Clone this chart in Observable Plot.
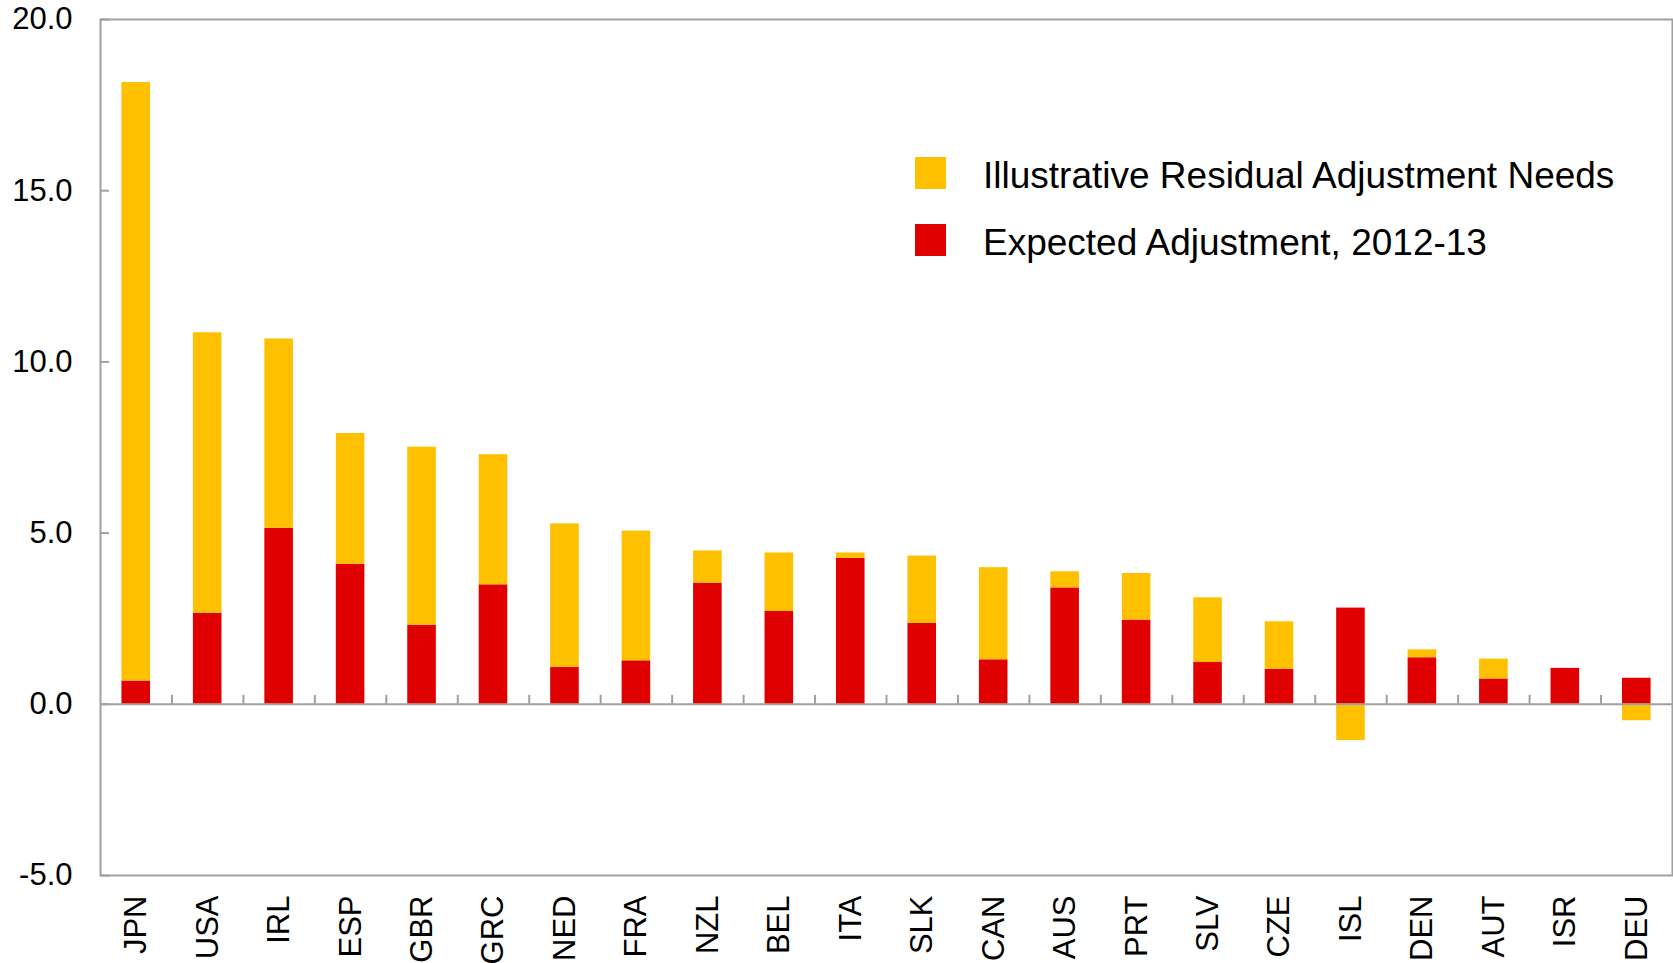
<!DOCTYPE html>
<html>
<head>
<meta charset="utf-8">
<script src="https://cdn.jsdelivr.net/npm/d3@7"></script>
<script src="https://cdn.jsdelivr.net/npm/@observablehq/plot@0.6"></script>
<style>
  html, body { margin: 0; padding: 0; background: #fff; }
  #wrap { position: relative; width: 1673px; height: 963px; font-family: "Liberation Sans", Arial, sans-serif; }
  #legend { position: absolute; left: 915px; top: 157px; font-size: 37px; color: #000; }
  .item { display: flex; align-items: center; height: 32px; margin-bottom: 35px; white-space: nowrap; }
  .sw { width: 31px; height: 32px; margin-right: 37px; }
  .tx { position: relative; top: 3px; }
</style>
</head>
<body>
<div id="wrap"><div id="chart"></div><div id="legend"></div></div>
<script>
const countries = ["JPN","USA","IRL","ESP","GBR","GRC","NED","FRA","NZL","BEL","ITA","SLK","CAN","AUS","PRT","SLV","CZE","ISL","DEN","AUT","ISR","DEU"];
const expectedAdj = [0.68, 2.66, 5.14, 4.09, 2.31, 3.49, 1.08, 1.27, 3.54, 2.71, 4.26, 2.36, 1.30, 3.40, 2.46, 1.22, 1.02, 2.81, 1.36, 0.74, 1.05, 0.76];
const residualNeeds = [17.48, 8.19, 5.53, 3.82, 5.20, 3.80, 4.19, 3.79, 0.94, 1.71, 0.16, 1.97, 2.69, 0.47, 1.36, 1.89, 1.39, -1.06, 0.23, 0.58, 0.0, -0.48];
const seriesNames = ["Expected Adjustment, 2012-13", "Illustrative Residual Adjustment Needs"];
const seriesColors = ["#E00000", "#FFC000"];
const yTicks = [-5, 0, 5, 10, 15, 20];

const rows = [];
countries.forEach((c, i) => rows.push({country: c, series: seriesNames[0], value: expectedAdj[i]}));
countries.forEach((c, i) => rows.push({country: c, series: seriesNames[1], value: residualNeeds[i]}));

const W = 1673, H = 963, mL = 100, mR = 1, mT = 19, mB = 88;
const step = (W - mL - mR) / countries.length;
const axisGray = "#A0A0A0";

const chart = Plot.plot({
  width: W, height: H,
  marginLeft: mL, marginRight: mR, marginTop: mT, marginBottom: mB,
  style: {fontFamily: "'Liberation Sans', Arial, sans-serif", background: "#fff", color: "#000"},
  x: {domain: countries, paddingInner: 0.6, paddingOuter: 0.3, round: false, label: null},
  y: {domain: [-5, 20], label: null},
  color: {domain: seriesNames, range: seriesColors},
  marks: [
    Plot.barY(rows, Plot.stackY({x: "country", y: "value", fill: "series", order: null})),
    Plot.ruleY([0], {stroke: axisGray, strokeWidth: 2}),
    Plot.ruleX(countries.slice(0, -1), {x: d => d, y1: 0, y2: 0, insetTop: -9, dx: step / 2, stroke: axisGray, strokeWidth: 2}),
    Plot.frame({stroke: axisGray, strokeWidth: 2}),
    Plot.axisY(yTicks, {tickSize: -9, tickPadding: 37, tickFormat: d => d.toFixed(1), fontSize: 31, stroke: axisGray, strokeWidth: 2, label: null}),
    Plot.axisX({tickSize: 0, tickPadding: 20, tickRotate: -90, fontSize: 31, label: null})
  ]
});
document.getElementById("chart").appendChild(chart);

const legend = document.getElementById("legend");
[1, 0].forEach(k => {
  const it = document.createElement("div");
  it.className = "item";
  const sw = document.createElement("div");
  sw.className = "sw";
  sw.style.background = seriesColors[k];
  const tx = document.createElement("span");
  tx.className = "tx";
  tx.textContent = seriesNames[k];
  it.appendChild(sw); it.appendChild(tx);
  legend.appendChild(it);
});
</script>
</body>
</html>
